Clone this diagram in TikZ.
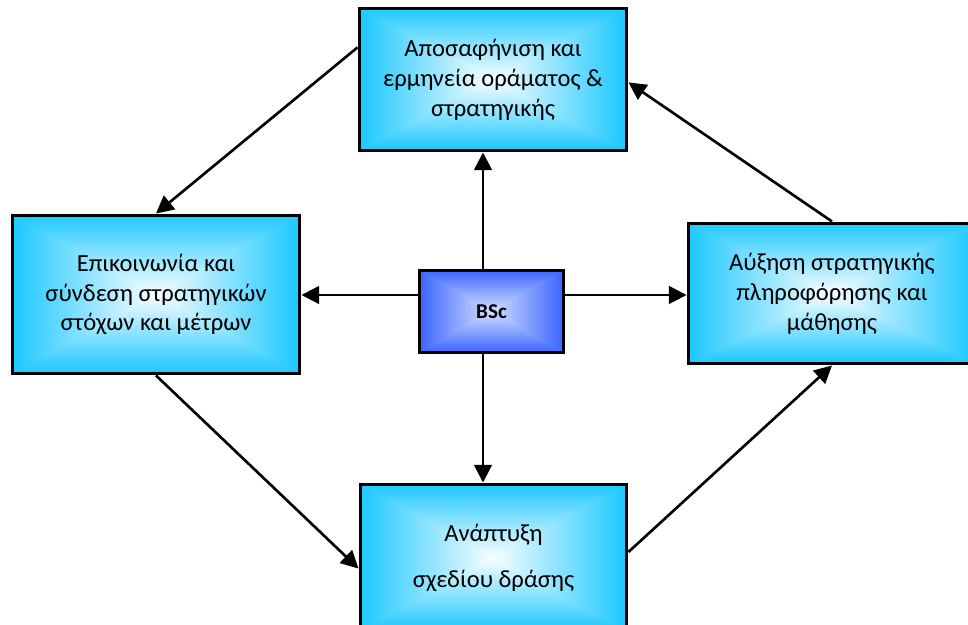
\documentclass[tikz,border=0pt]{standalone}
\usepackage{fontspec}
\setmainfont{Carlito}
\usetikzlibrary{arrows.meta,calc}

\definecolor{boxedge}{RGB}{28,200,255}
\definecolor{boxcore}{RGB}{250,253,255}
\definecolor{bscedge}{RGB}{58,100,255}
\definecolor{bsccore}{RGB}{212,224,255}

\tikzset{
  % rectangular gradient: nested similar rectangles from the rim to the centre
  rectgrad/.style 2 args={path picture={
    \foreach \k in {0,...,59}{
      \pgfmathtruncatemacro\pc{100*(1-\k/60)}
      \pgfmathsetmacro\f{1-\k/60}
      \fill[#1!\pc!#2]
        ($(path picture bounding box.center)!\f!(path picture bounding box.south west)$)
        rectangle
        ($(path picture bounding box.center)!\f!(path picture bounding box.north east)$);
    }}},
  stagebox/.style={draw=black, line width=1.7pt, rectgrad={boxedge}{boxcore},
    align=center, inner sep=0pt, font=\fontsize{14}{17}\selectfont},
  hubbox/.style={draw=black, line width=1.7pt, rectgrad={bscedge}{bsccore},
    inner sep=0pt, font=\fontsize{12}{14}\selectfont\bfseries},
  link/.style={line width=1.5pt, -{Triangle[length=10pt,width=10pt]}}
}

\begin{document}
\begin{tikzpicture}[x=0.02cm, y=-0.02cm]
  \useasboundingbox (0,0) rectangle (968,625);
  \clip (0,0) rectangle (968,625);

  \node[stagebox, minimum width=5.36cm, minimum height=2.86cm] (top) at (493,79.5)
    {Αποσαφήνιση και\\ ερμηνεία οράματος \&\\ στρατηγικής};
  \node[stagebox, minimum width=5.76cm, minimum height=3.18cm] (left) at (156,294.5)
    {Επικοινωνία και\\ σύνδεση στρατηγικών\\ στόχων και μέτρων};
  \node[stagebox, minimum width=5.76cm, minimum height=2.82cm] (right) at (832,293.5)
    {Αύξηση στρατηγικής\\ πληροφόρησης και\\ μάθησης};
  \node[stagebox, minimum width=5.34cm, minimum height=2.96cm] (bottom) at (493.5,558)
    {Ανάπτυξη\\[9pt] σχεδίου δράσης};
  \node[hubbox, minimum width=2.9cm, minimum height=1.66cm] (hub) at (491.5,311.5) {BSc};

  % spokes from the hub
  \coordinate (vx) at (483,0);
  \coordinate (hy) at (0,295);
  \draw[link] (hub.north -| vx) -- (top.south -| vx);
  \draw[link] (hub.south -| vx) -- (bottom.north -| vx);
  \draw[link] (hub.west |- hy) -- (left.east |- hy);
  \draw[link] (hub.east |- hy) -- (right.west |- hy);

  % outer cycle
  \draw[link] ($(top.north west)!0.28!(top.south west)$) -- (left.north);
  \draw[link] (left.south) -- ($(bottom.north west)!0.57!(bottom.south west)$);
  \draw[link] ($(bottom.north east)!0.46!(bottom.south east)$) -- (right.south);
  \draw[link] (right.north) -- ($(top.north east)!0.52!(top.south east)$);
\end{tikzpicture}
\end{document}
